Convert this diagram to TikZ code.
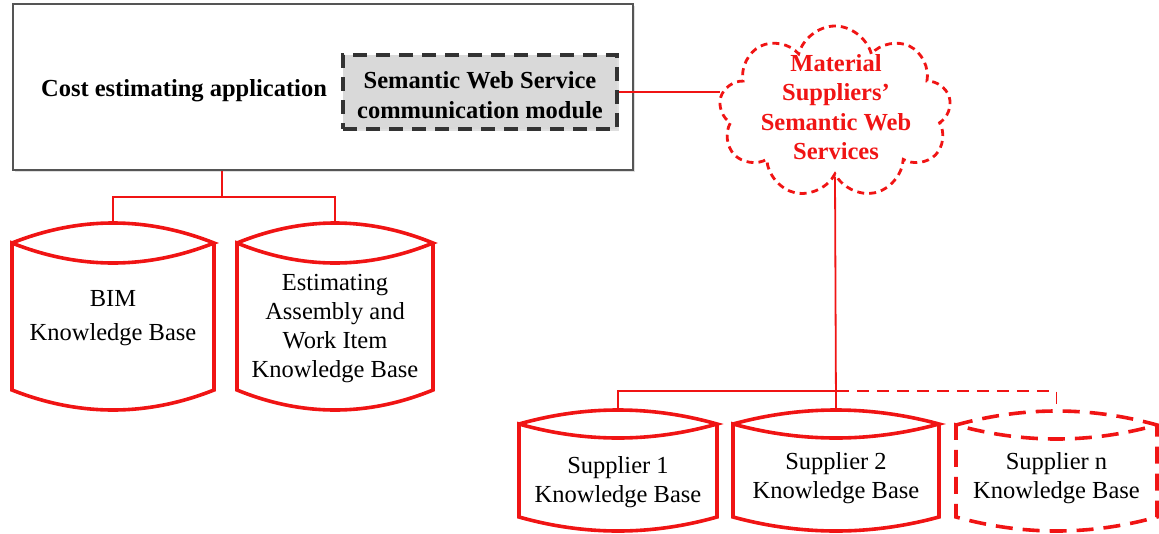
\documentclass[tikz,border=0pt]{standalone}
\usepackage{fontspec}
\setmainfont{Liberation Serif}
\usetikzlibrary{shapes.symbols,shadows,calc}

\definecolor{kbred}{RGB}{240,20,20}
\definecolor{boxgray}{RGB}{85,85,85}
\definecolor{modfill}{RGB}{217,217,217}

% Knowledge-base cylinder: name, style, left x, right x, top y, rim depth, bottom y, text, text shift
\newcommand{\kbcyl}[9]{%
  \pgfmathsetmacro{\kbR}{#5+#6}%
  \pgfmathsetmacro{\kbB}{#7-#6}%
  \pgfmathsetmacro{\kbA}{#3+(#4-#3)/3}%
  \pgfmathsetmacro{\kbC}{#3+2*(#4-#3)/3}%
  \pgfmathsetmacro{\kbU}{#5-#6/3}%
  \pgfmathsetmacro{\kbD}{#5+#6+#6*4/3}%
  \pgfmathsetmacro{\kbE}{#7+#6/3}%
  \pgfmathsetmacro{\kbX}{(#3+#4)/2}%
  \pgfmathsetmacro{\kbY}{(#5+#7)/2}%
  \pgfmathsetmacro{\kbW}{#4-#3}%
  \pgfmathsetmacro{\kbH}{#7-#5}%
  \draw[#2] (#3,\kbR) .. controls (\kbA,\kbU) and (\kbC,\kbU) .. (#4,\kbR)
    .. controls (\kbC,\kbD) and (\kbA,\kbD) .. (#3,\kbR)
    -- (#3,\kbB) .. controls (\kbA,\kbE) and (\kbC,\kbE) .. (#4,\kbB) -- (#4,\kbR);
  \node[inner sep=0pt, minimum width=\kbW pt, minimum height=\kbH pt] (#1) at (\kbX,\kbY) {};
  \node[kbtext] (#1-label) at ([yshift=-#9pt]#1.center) {#8};
}

\begin{document}
\begin{tikzpicture}[x=1pt,y=-1pt,
  txt/.style={font=\fontsize{24.5}{29}\selectfont, align=center},
  boldtxt/.style={txt, font=\fontsize{24.5}{29.5}\selectfont\bfseries, inner sep=0pt},
  kbtext/.style={txt, inner sep=0pt},
  cyl/.style={draw=kbred, line width=3.6pt, line join=miter},
  cyldash/.style={cyl, dash pattern=on 17pt off 10pt},
  link/.style={draw=kbred, line width=1.8pt},
  linkdash/.style={link, dash pattern=on 12pt off 8pt},
  appbox/.style={draw=boxgray, line width=1.8pt, fill=white,
    drop shadow={shadow xshift=2pt, shadow yshift=-2pt, opacity=0.25}},
  module/.style={fill=modfill, draw=black!80, line width=3.6pt, dash pattern=on 14pt off 9pt,
    drop shadow={shadow xshift=2pt, shadow yshift=-2pt, opacity=0.25}},
  service/.style={cloud, cloud puffs=9, cloud ignores aspect, draw=kbred, line width=2.8pt,
    dash pattern=on 7pt off 5pt}
]
\useasboundingbox (0,0) rectangle (1159,533);

% application box and its module
\node[appbox, minimum width=620pt, minimum height=166pt] (app) at (323,87) {};
\node[boldtxt] (applbl) at (184,91) {Cost estimating application};
\node[module, minimum width=274pt, minimum height=74pt, inner sep=0pt] (swsm) at (480,92) {};
\node[boldtxt] (swsmlbl) at (480,95) {Semantic Web Service\\communication module};

% suppliers' services
\node[service, minimum width=232pt, minimum height=172pt, inner sep=0pt] (cloud) at (835,112) {};
\node[boldtxt, text=kbred] (cloudlbl) at (836,107)
  {Material\\Suppliers’\\Semantic Web\\Services};

% knowledge bases
\kbcyl{bim}{cyl}{12}{214}{223}{20}{410}{BIM\\[5pt]Knowledge Base}{2}
\kbcyl{est}{cyl}{237}{433}{223}{20}{410}{Estimating\\Assembly and\\Work Item\\Knowledge Base}{12}
\kbcyl{s1}{cyl}{519}{717}{410}{14}{531}{Supplier 1\\Knowledge Base}{12}
\kbcyl{s2}{cyl}{733}{939}{410}{14}{531}{Supplier 2\\Knowledge Base}{8}
\kbcyl{sn}{cyldash}{956}{1157}{411}{14}{531}{Supplier n\\Knowledge Base}{7}

% connectors
\coordinate (tap) at (222,197);
\coordinate (sj) at (837,391);
\draw[link] (tap |- app.south) -- (tap);
\draw[link] (bim.north) |- (tap) -| (est.north);
\draw[link] (swsm.east) -- (swsm.east -| cloud.west);
\draw[link] (cloud.south) -- (s2.north);
\draw[link] (s1.north) |- (sj);
\draw[linkdash] (sj) -| (sn.north);
\end{tikzpicture}
\end{document}
